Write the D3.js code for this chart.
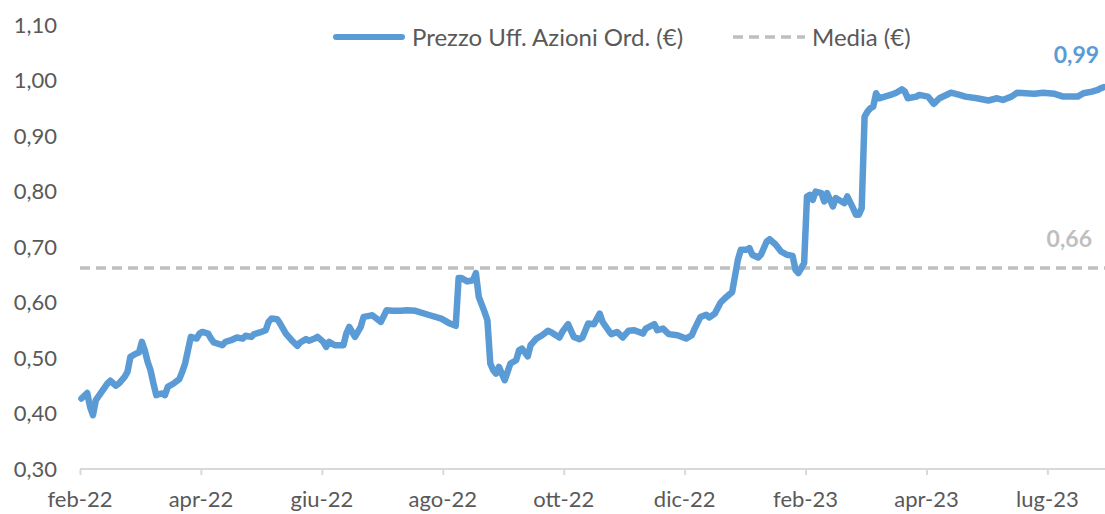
<!DOCTYPE html>
<html>
<head>
<meta charset="utf-8">
<script src="https://cdn.jsdelivr.net/npm/d3@7"></script>
<style>
  body { margin: 0; background: #fff; }
  text { font-family: Lato, "Open Sans", sans-serif; fill: #595959; }
</style>
</head>
<body>
<svg width="1105" height="514"></svg>
<script>
// giorno di borsa (indice) e prezzo ufficiale
const giorni = [0,2,3,4,5,7,9,10,12,13,15,16,17,19,20,21,22,23,24,25,26,27,28,29,30,32,34,35,36,37,38,40,41,42,44,45,46,49,50,52,54,56,57,59,60,62,64,65,66,68,69,71,73,75,76,78,79,81,82,84,85,86,88,91,92,93,95,96,97,98,100,101,104,106,108,111,113,116,121,125,128,130,131,132,134,136,137,138,140,141,142,143,144,145,147,148,149,151,152,153,155,156,158,160,162,163,166,167,169,171,173,174,176,178,180,181,183,184,186,188,190,192,195,196,199,200,202,204,207,210,212,213,215,217,218,220,222,224,226,228,229,231,232,233,235,236,238,239,241,243,245,247,248,249,251,252,253,254,255,257,258,259,261,262,264,265,266,268,269,270,271,272,273,274,275,276,277,279,281,283,285,286,287,290,291,294,296,298,302,305,307,311,315,318,320,323,325,328,331,334,338,341,346,348,351,353,354,355];
const prezzo = [0.427,0.437,0.412,0.397,0.424,0.439,0.454,0.459,0.450,0.454,0.466,0.475,0.502,0.508,0.510,0.529,0.514,0.493,0.478,0.454,0.433,0.435,0.436,0.433,0.448,0.454,0.462,0.475,0.490,0.514,0.538,0.535,0.544,0.547,0.544,0.535,0.528,0.523,0.529,0.532,0.537,0.535,0.540,0.538,0.543,0.546,0.550,0.565,0.571,0.570,0.562,0.544,0.532,0.522,0.528,0.534,0.531,0.535,0.538,0.529,0.520,0.529,0.523,0.523,0.544,0.556,0.538,0.547,0.556,0.574,0.576,0.577,0.565,0.586,0.585,0.585,0.586,0.585,0.577,0.571,0.562,0.558,0.644,0.644,0.638,0.640,0.653,0.610,0.583,0.568,0.490,0.478,0.472,0.484,0.460,0.475,0.490,0.496,0.514,0.517,0.503,0.523,0.535,0.541,0.549,0.547,0.537,0.547,0.561,0.538,0.534,0.537,0.562,0.561,0.580,0.565,0.550,0.543,0.547,0.537,0.549,0.550,0.544,0.553,0.561,0.550,0.553,0.543,0.541,0.535,0.541,0.553,0.574,0.578,0.573,0.580,0.600,0.610,0.619,0.677,0.695,0.695,0.698,0.686,0.681,0.686,0.710,0.714,0.705,0.692,0.686,0.684,0.659,0.653,0.671,0.791,0.794,0.785,0.800,0.797,0.782,0.797,0.773,0.788,0.782,0.779,0.791,0.770,0.758,0.758,0.770,0.935,0.944,0.950,0.953,0.977,0.968,0.971,0.974,0.978,0.984,0.980,0.968,0.971,0.974,0.971,0.958,0.968,0.978,0.974,0.971,0.968,0.964,0.968,0.965,0.971,0.978,0.977,0.976,0.978,0.976,0.971,0.971,0.977,0.980,0.983,0.986,0.988];
const nGiorni = 356;
const media = 0.662;

const tickGiorni = [0, 42, 84, 126, 168, 210, 252, 294, 336];
const tickLabels = ["feb-22", "apr-22", "giu-22", "ago-22", "ott-22", "dic-22", "feb-23", "apr-23", "lug-23"];
const yTicks = [0.3, 0.4, 0.5, 0.6, 0.7, 0.8, 0.9, 1.0, 1.1];

const serieNomi = ["Prezzo Uff. Azioni Ord. (€)", "Media (€)"];

const blu = "#5b9bd5";
const grigio = "#bfbfbf";

const svg = d3.select("svg");
const x = d3.scaleLinear().domain([0, nGiorni]).range([80, 1105]);
const y = d3.scaleLinear().domain([0.3, 1.1]).range([469, 25]);
const fmt = (v) => d3.format(".2f")(v).replace(".", ",");

// asse y (solo etichette)
svg.append("g")
  .selectAll("text")
  .data(yTicks)
  .enter()
  .append("text")
  .attr("x", 57)
  .attr("y", (d) => y(d))
  .attr("dy", "0.36em")
  .attr("text-anchor", "end")
  .style("font-size", "22px")
  .text(fmt);

// asse x
const xAxis = svg.append("g");
xAxis.append("line")
  .attr("x1", x(0)).attr("x2", x(nGiorni))
  .attr("y1", y(0.3)).attr("y2", y(0.3))
  .attr("stroke", "#d9d9d9").attr("stroke-width", 2);
xAxis.selectAll(".tick")
  .data(tickGiorni)
  .enter()
  .append("line")
  .attr("x1", (d) => x(d) + 0.5).attr("x2", (d) => x(d) + 0.5)
  .attr("y1", y(0.3)).attr("y2", y(0.3) + 6)
  .attr("stroke", "#d9d9d9").attr("stroke-width", 2);
xAxis.selectAll("text")
  .data(tickGiorni)
  .enter()
  .append("text")
  .attr("x", (d) => x(d))
  .attr("y", 507)
  .attr("text-anchor", "middle")
  .style("font-size", "22px")
  .text((d, i) => tickLabels[i]);

// media
svg.append("line")
  .attr("x1", x(0)).attr("x2", x(nGiorni))
  .attr("y1", y(media)).attr("y2", y(media))
  .attr("stroke", grigio).attr("stroke-width", 3.5)
  .attr("stroke-dasharray", "10,6");

// prezzo
const punti = giorni.map((g, i) => [g, prezzo[i]]);
const line = d3.line()
  .x((d) => x(d[0] + 0.5))
  .y((d) => y(d[1]));
svg.append("path")
  .datum(punti)
  .attr("d", line)
  .attr("fill", "none")
  .attr("stroke", blu)
  .attr("stroke-width", 6.5)
  .attr("stroke-linejoin", "round")
  .attr("stroke-linecap", "round");

// etichette valori
const ultimo = punti[punti.length - 1];
svg.append("text")
  .attr("x", x(ultimo[0]) - 3)
  .attr("y", y(ultimo[1]) - 24)
  .attr("text-anchor", "end")
  .style("font-size", "23px")
  .style("font-weight", "bold")
  .style("fill", blu)
  .text(fmt(ultimo[1]));
svg.append("text")
  .attr("x", x(nGiorni) - 13)
  .attr("y", y(media) - 21)
  .attr("text-anchor", "end")
  .style("font-size", "23px")
  .style("font-weight", "bold")
  .style("fill", grigio)
  .text(fmt(media));

// legenda
const leg = svg.append("g");
leg.append("line")
  .attr("x1", 336).attr("x2", 402).attr("y1", 37).attr("y2", 37)
  .attr("stroke", blu).attr("stroke-width", 6).attr("stroke-linecap", "round");
leg.append("text")
  .attr("x", 412).attr("y", 37).attr("dy", "0.36em")
  .style("font-size", "24px")
  .text(serieNomi[0]);
leg.append("line")
  .attr("x1", 733).attr("x2", 805).attr("y1", 37).attr("y2", 37)
  .attr("stroke", grigio).attr("stroke-width", 3.5)
  .attr("stroke-dasharray", "10,6");
leg.append("text")
  .attr("x", 812).attr("y", 37).attr("dy", "0.36em")
  .style("font-size", "24px")
  .text(serieNomi[1]);
</script>
</body>
</html>
